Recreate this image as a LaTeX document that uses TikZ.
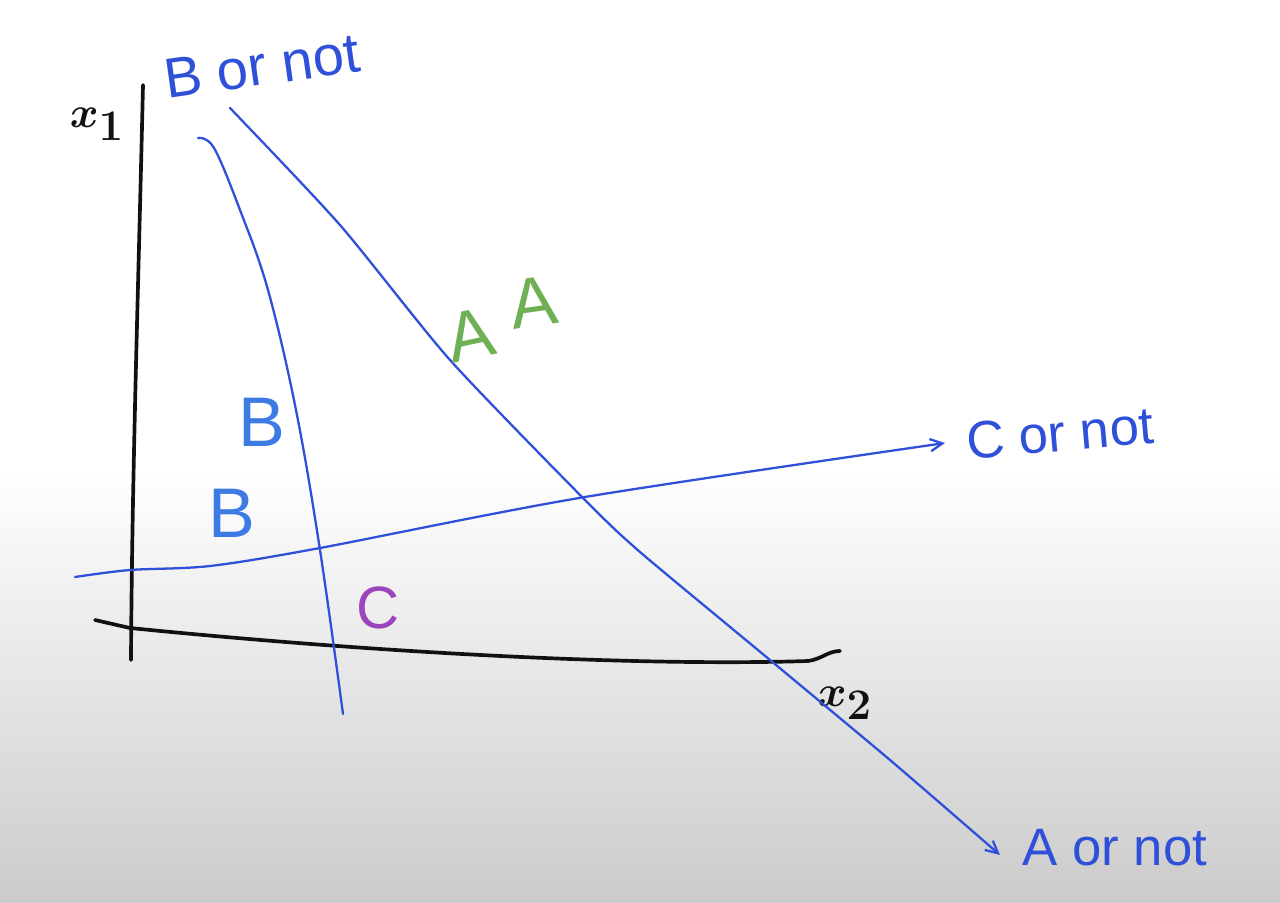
\documentclass[tikz,border=0pt]{standalone}
\usepackage{fontspec}
\setmainfont{Liberation Sans}
\usepackage{tikz}
\usetikzlibrary{arrows.meta, positioning}
\definecolor{pen}{HTML}{2F50D8}
\definecolor{penlight}{HTML}{3B7BE3}
\definecolor{ink}{HTML}{111111}
\definecolor{leaf}{HTML}{6FB055}
\definecolor{plum}{HTML}{9B45BD}
\definecolor{paper}{HTML}{CBCBCB}

\begin{document}
\begin{tikzpicture}[x=0.02cm, y=-0.02cm, line cap=round, line join=round,
  every node/.style={inner sep=0pt},
  axis/.style={draw=ink, line width=2.1pt},
  bound/.style={draw=pen, line width=1.3pt},
  note/.style={text=pen, font=\fontsize{30}{32}\selectfont},
  region/.style={font=\fontsize{40}{42}\selectfont}]
  \useasboundingbox (0,0) rectangle (1280,902);
  % Paper
  \fill[white] (0,0) rectangle (1280,470);
  \shade[top color=white, bottom color=paper] (0,470) rectangle (1280,902);

  % Axes
  \draw[axis] (143,85) .. controls (138,300) and (132,480) .. (131,660);
  \draw[axis] (95,620) -- (130,628) .. controls (400,655) and (650,666) .. (808,661)
    .. controls (822,659) and (828,651) .. (840,651);
  \node[text=ink, font=\fontsize{38}{40}\selectfont\boldmath] (xone) at (97,124) {$x_1$};
  \node[text=ink, font=\fontsize{38}{40}\selectfont\boldmath] (xtwo) at (845,703) {$x_2$};

  % Boundaries
  \draw[bound] plot[smooth, tension=0.6] coordinates
    {(198,138) (214,148) (240,210) (268,290) (296,410) (320,550) (343,714)};
  \draw[bound, -{Straight Barb[length=7pt, width=7pt]}] plot[smooth, tension=0.4] coordinates
    {(230,108) (340,225) (450,360) (585,500) (640,552) (770,660) (890,760) (1000,855)};
  \draw[bound, -{Straight Barb[length=7pt, width=7pt]}] plot[smooth, tension=0.5] coordinates
    {(75,577) (130,570) (210,566) (320,548) (585,497) (945,443)};

  % Labels at line ends
  \node[note, rotate=8, font=\fontsize{32}{34}\selectfont] (bnot) at (262,66) {B or not};
  \node[note, rotate=5] (cnot) at (1060,433) {C or not};
  \node[note] (anot) at (1115,848) {A or not};

  % Regions
  \node[region, text=leaf, rotate=12] (aone) at (470,335) {A};
  \node[region, text=leaf, rotate=8] (atwo) at (533,302) {A};
  \node[region, text=penlight] (bone) at (262,422) {B};
  \node[region, text=penlight] (btwo) at (232,513) {B};
  \node[region, text=plum, font=\fontsize{34}{36}\selectfont] (cone) at (378,608) {C};
\end{tikzpicture}
\end{document}
